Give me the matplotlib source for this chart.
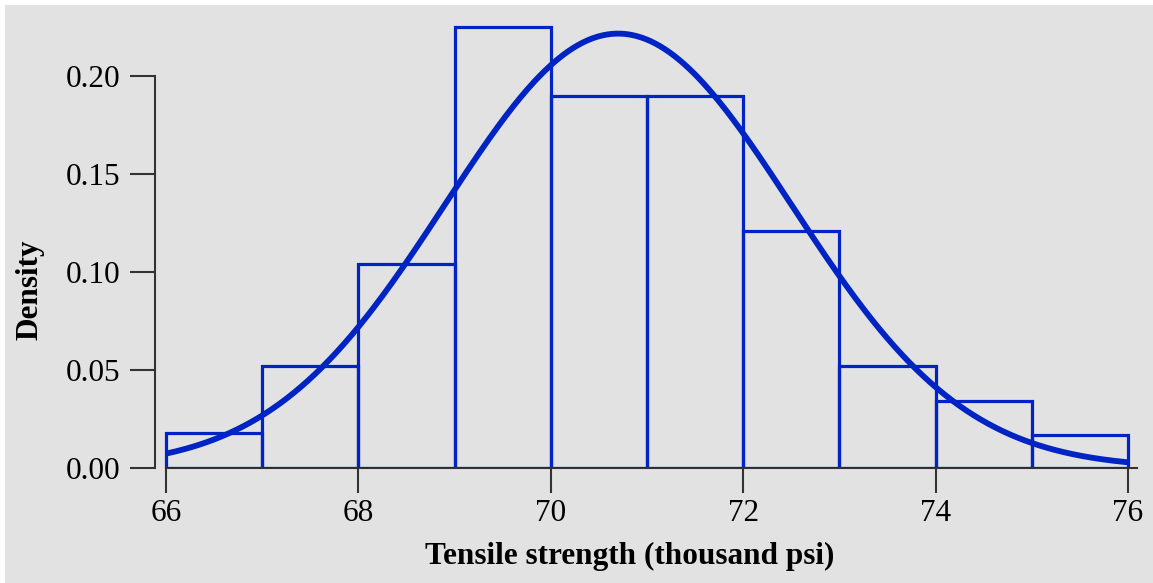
import numpy as np
import matplotlib
matplotlib.use("Agg")
import matplotlib.pyplot as plt
from matplotlib.patches import Rectangle

# Data
bin_edges = [66, 67, 68, 69, 70, 71, 72, 73, 74, 75, 76]
densities = [0.018, 0.052, 0.104, 0.225, 0.190, 0.190, 0.121, 0.052, 0.034, 0.017]
fit_mean = 70.7
fit_sd = 1.8
x_ticks = [66, 68, 70, 72, 74, 76]
y_ticks = [0.00, 0.05, 0.10, 0.15, 0.20]
x_label = "Tensile strength (thousand psi)"
y_label = "Density"

W, H = 1153, 583
bg = "#e2e2e2"
blue = "#0024c4"
plt.rcParams['font.family'] = ['Liberation Serif', 'DejaVu Serif']

fig = plt.figure(figsize=(W / 100, H / 100), dpi=100, facecolor="white")
fig.patches.append(Rectangle((5 / W, 0), 1, 1 - 5 / H, transform=fig.transFigure,
                             facecolor=bg, edgecolor="none", zorder=-10))

# axes geometry in pixels
px_per_x = 96.2
px_per_y = 1960.0
x0 = 65.886
x1 = 76.2
y1 = 0.232
left_px = 155
bottom_px = H - 468
ax = fig.add_axes([left_px / W, bottom_px / H, (x1 - x0) * px_per_x / W, y1 * px_per_y / H])
ax.set_facecolor("none")
ax.set_xlim(x0, x1)
ax.set_ylim(0, y1)

widths = np.diff(bin_edges)
ax.bar(bin_edges[:-1], densities, width=widths, align="edge", fill=False,
       edgecolor=blue, linewidth=2.3, zorder=3)

xs = np.linspace(bin_edges[0], bin_edges[-1], 400)
ys = np.exp(-0.5 * ((xs - fit_mean) / fit_sd) ** 2) / (fit_sd * np.sqrt(2 * np.pi))
ax.plot(xs, ys, color=blue, linewidth=4.2, zorder=4, solid_capstyle="butt")

for s in ["top", "right"]:
    ax.spines[s].set_visible(False)
ax.spines["left"].set_bounds(0, 0.2)
ax.spines["bottom"].set_bounds(66, 76.09)
for s in ["left", "bottom"]:
    ax.spines[s].set_color("#333333")
    ax.spines[s].set_linewidth(1.5)
    ax.spines[s].set_zorder(2)

ax.set_xticks(x_ticks)
ax.set_xticklabels([str(v) for v in x_ticks])
ax.set_yticks(y_ticks)
ax.set_yticklabels([f"{v:.2f}" for v in y_ticks])
ax.tick_params(axis="both", length=18, width=1.5, color="#333333",
               labelsize=22.5, labelcolor="black")
ax.tick_params(axis="y", pad=7)
ax.tick_params(axis="x", pad=4)

fig.text(630 / W, 1 - 556 / H, x_label, ha="center", va="center",
         fontsize=22.5, fontweight="bold")
fig.text(30 / W, 1 - 290 / H, y_label, ha="center", va="center",
         rotation=90, fontsize=22.5, fontweight="bold")

fig.savefig("out.png", dpi=100, facecolor=fig.get_facecolor())
